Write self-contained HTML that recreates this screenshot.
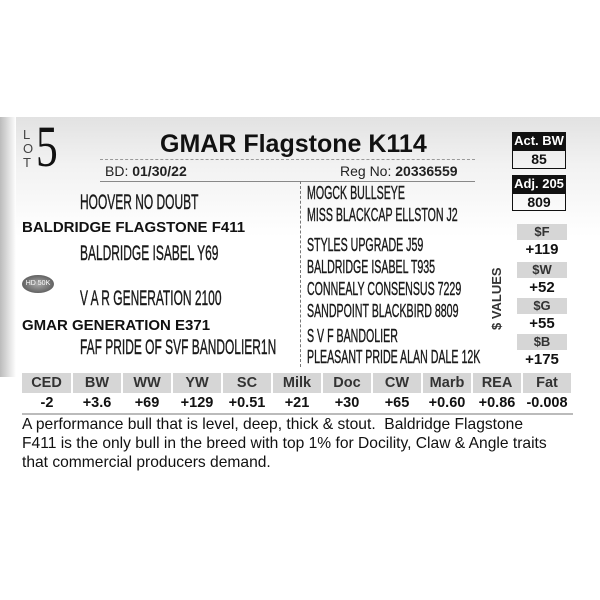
<!DOCTYPE html>
<html><head><style>
body{margin:0;width:600px;height:600px;background:#fff;position:relative;overflow:hidden;font-family:"Liberation Sans",sans-serif;color:#111}
.a{position:absolute;white-space:nowrap}
.n{font-size:21px;transform:scaleX(0.57);transform-origin:left top;color:#1a1a1a;-webkit-text-stroke:0.4px #1a1a1a}
.r{font-size:18px;transform:scaleX(0.59);transform-origin:left top;color:#1a1a1a;-webkit-text-stroke:0.4px #1a1a1a}
.b{font-weight:bold;font-size:15px}
.box{position:absolute;text-align:center;font-weight:bold}
table{position:absolute;left:22px;top:373px;width:551px;border-collapse:collapse;font-size:14.5px;font-weight:bold;table-layout:fixed}
td{text-align:center;padding:0;height:20px}
tr.h td{background:#d6d6d6;color:#333;border-right:2px solid #fff}
</style></head><body>
<div class="a" style="left:0;top:117px;width:600px;height:120px;background:linear-gradient(#e2e2e2,#f2f2f2 40%,#fff)"></div>
<div class="a" style="left:0;top:117px;width:16px;height:260px;background:linear-gradient(90deg,#bbb,#fff)"></div>
<div class="a" style="left:23px;top:128px;font-size:13px;line-height:14px;color:#444">L<br>O<br>T</div>
<div class="a" style="left:36px;top:118px;font-family:'Liberation Serif',serif;font-size:58px;line-height:58px;transform:scaleX(0.75);transform-origin:left top">5</div>
<div class="a" style="left:160px;top:130px;font-size:25px;font-weight:bold">GMAR Flagstone K114</div>
<div class="a" style="left:100px;top:159px;width:375px;border-top:1px dashed #999"></div>
<div class="a" style="left:105px;top:163px;font-size:14px;color:#222">BD: <b>01/30/22</b></div>
<div class="a" style="left:340px;top:163px;font-size:14px;color:#222">Reg No: <b>20336559</b></div>
<div class="a" style="left:100px;top:181px;width:375px;border-top:1px solid #888"></div>
<div class="box" style="left:512px;top:132px;width:54px;height:18px;background:#111;color:#fff;font-size:13px;line-height:18px">Act. BW</div>
<div class="box" style="left:512px;top:150px;width:52px;height:17px;border:1px solid #111;font-size:14px;line-height:17px">85</div>
<div class="box" style="left:512px;top:175px;width:54px;height:18px;background:#111;color:#fff;font-size:13px;line-height:18px">Adj. 205</div>
<div class="box" style="left:512px;top:193px;width:52px;height:16px;border:1px solid #111;font-size:14px;line-height:16px">809</div>
<div class="a n" style="left:80px;top:191px">HOOVER NO DOUBT</div>
<div class="a b" style="left:22px;top:219px">BALDRIDGE FLAGSTONE F411</div>
<div class="a n" style="left:80px;top:242px">BALDRIDGE ISABEL Y69</div>
<div class="a" style="left:22px;top:275px;width:32px;height:18px;border-radius:50%;background:radial-gradient(#aaa,#444);color:#fff;font-size:7px;line-height:18px;text-align:center">HD 50K</div>
<div class="a n" style="left:80px;top:287px">V A R GENERATION 2100</div>
<div class="a b" style="left:22px;top:317px">GMAR GENERATION E371</div>
<div class="a n" style="left:80px;top:336px">FAF PRIDE OF SVF BANDOLIER1N</div>
<div class="a" style="left:300px;top:181px;height:186px;border-left:1px dashed #777"></div>
<div class="a r" style="left:307px;top:183px">MOGCK BULLSEYE</div>
<div class="a r" style="left:307px;top:205px">MISS BLACKCAP ELLSTON J2</div>
<div class="a r" style="left:307px;top:235px">STYLES UPGRADE J59</div>
<div class="a r" style="left:307px;top:257px">BALDRIDGE ISABEL T935</div>
<div class="a r" style="left:307px;top:279px">CONNEALY CONSENSUS 7229</div>
<div class="a r" style="left:307px;top:301px">SANDPOINT BLACKBIRD 8809</div>
<div class="a r" style="left:307px;top:326px">S V F BANDOLIER</div>
<div class="a r" style="left:307px;top:347px">PLEASANT PRIDE ALAN DALE 12K</div>
<div class="a" style="left:489px;top:330px;font-size:13px;font-weight:bold;color:#333;transform:rotate(-90deg);transform-origin:left top">$ VALUES</div>
<div class="box" style="left:517px;top:224px;width:50px;height:16px;background:#d6d6d6;font-size:13px;line-height:16px;color:#333">$F</div>
<div class="box" style="left:512px;top:241px;width:60px;font-size:15px">+119</div>
<div class="box" style="left:517px;top:262px;width:50px;height:16px;background:#d6d6d6;font-size:13px;line-height:16px;color:#333">$W</div>
<div class="box" style="left:512px;top:279px;width:60px;font-size:15px">+52</div>
<div class="box" style="left:517px;top:298px;width:50px;height:16px;background:#d6d6d6;font-size:13px;line-height:16px;color:#333">$G</div>
<div class="box" style="left:512px;top:315px;width:60px;font-size:15px">+55</div>
<div class="box" style="left:517px;top:334px;width:50px;height:16px;background:#d6d6d6;font-size:13px;line-height:16px;color:#333">$B</div>
<div class="box" style="left:512px;top:351px;width:60px;font-size:15px">+175</div>
<table>
<tr class="h"><td>CED</td><td>BW</td><td>WW</td><td>YW</td><td>SC</td><td>Milk</td><td>Doc</td><td>CW</td><td>Marb</td><td>REA</td><td>Fat</td></tr>
<tr><td>-2</td><td>+3.6</td><td>+69</td><td>+129</td><td>+0.51</td><td>+21</td><td>+30</td><td>+65</td><td>+0.60</td><td>+0.86</td><td>-0.008</td></tr>
</table>
<div class="a" style="left:22px;top:413px;width:551px;border-top:2px solid #bbb"></div>
<div class="a" style="left:22px;top:415px;font-size:15.6px;line-height:19px;color:#111">A performance bull that is level, deep, thick &amp; stout.&nbsp; Baldridge Flagstone<br>F411 is the only bull in the breed with top 1% for Docility, Claw &amp; Angle traits<br>that commercial producers demand.</div>
</body></html>
